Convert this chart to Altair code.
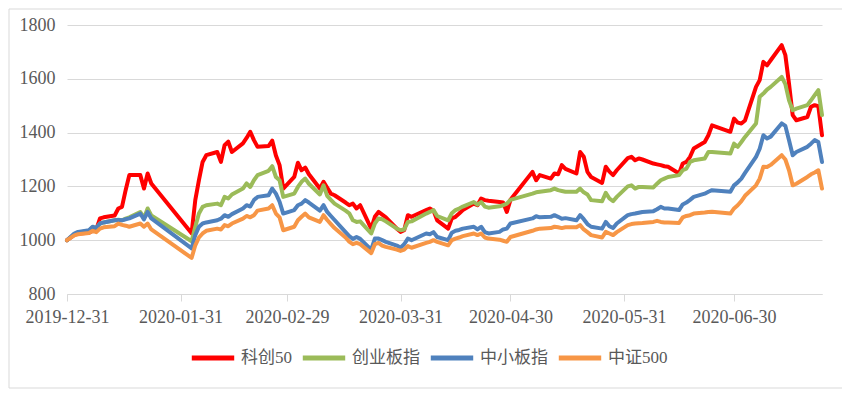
import altair as alt
import pandas as pd

names = ["科创50", "创业板指", "中小板指", "中证500"]
colors = ["#FF0000", "#9BBB59", "#4F81BD", "#F79646"]

dates = [
    "2019-12-31",
    "2020-01-02", "2020-01-03", "2020-01-06", "2020-01-07", "2020-01-08", "2020-01-09", "2020-01-10",
    "2020-01-13", "2020-01-14", "2020-01-15", "2020-01-16", "2020-01-17", "2020-01-20", "2020-01-21",
    "2020-01-22", "2020-01-23",
    "2020-02-03", "2020-02-04", "2020-02-05", "2020-02-06", "2020-02-07", "2020-02-10", "2020-02-11",
    "2020-02-12", "2020-02-13", "2020-02-14", "2020-02-17", "2020-02-18", "2020-02-19", "2020-02-20",
    "2020-02-21", "2020-02-24", "2020-02-25", "2020-02-26", "2020-02-27", "2020-02-28",
    "2020-03-02", "2020-03-03", "2020-03-04", "2020-03-05", "2020-03-06", "2020-03-09", "2020-03-10",
    "2020-03-11", "2020-03-12", "2020-03-13", "2020-03-16", "2020-03-17", "2020-03-18", "2020-03-19",
    "2020-03-20", "2020-03-23", "2020-03-24", "2020-03-25", "2020-03-26", "2020-03-27", "2020-03-30",
    "2020-03-31",
    "2020-04-01", "2020-04-02", "2020-04-03", "2020-04-07", "2020-04-08", "2020-04-09", "2020-04-10",
    "2020-04-13", "2020-04-14", "2020-04-15", "2020-04-16", "2020-04-17", "2020-04-20", "2020-04-21",
    "2020-04-22", "2020-04-23", "2020-04-24", "2020-04-27", "2020-04-28", "2020-04-29", "2020-04-30",
    "2020-05-06", "2020-05-07", "2020-05-08", "2020-05-11", "2020-05-12", "2020-05-13", "2020-05-14",
    "2020-05-15", "2020-05-18", "2020-05-19", "2020-05-20", "2020-05-21", "2020-05-22", "2020-05-25",
    "2020-05-26", "2020-05-27", "2020-05-28", "2020-05-29",
    "2020-06-01", "2020-06-02", "2020-06-03", "2020-06-04", "2020-06-05", "2020-06-08", "2020-06-09",
    "2020-06-10", "2020-06-11", "2020-06-12", "2020-06-15", "2020-06-16", "2020-06-17", "2020-06-18",
    "2020-06-19", "2020-06-22", "2020-06-23", "2020-06-24", "2020-06-29", "2020-06-30",
    "2020-07-01", "2020-07-02", "2020-07-03", "2020-07-06", "2020-07-07", "2020-07-08", "2020-07-09",
    "2020-07-10", "2020-07-13", "2020-07-14", "2020-07-15", "2020-07-16", "2020-07-17", "2020-07-20",
    "2020-07-21", "2020-07-22", "2020-07-23", "2020-07-24",
]

kc50 = [
    1000,
    1020, 1025, 1028, 1035, 1040, 1081, 1085,
    1092, 1118, 1124, 1186, 1242, 1242, 1192,
    1248, 1211,
    1026, 1149, 1223, 1291, 1316, 1328, 1291,
    1353, 1366, 1328, 1360, 1380, 1403, 1372,
    1347, 1350, 1370, 1315, 1279, 1192,
    1235, 1288, 1260, 1270, 1245, 1192, 1217,
    1195, 1173, 1167, 1140, 1130, 1136, 1118,
    1130, 1043, 1087, 1105, 1095, 1085, 1043,
    1031,
    1037, 1093, 1087, 1112, 1118, 1110, 1074,
    1043, 1081, 1087, 1099, 1112, 1136, 1130,
    1155, 1149, 1147, 1142, 1140, 1105, 1150,
    1254, 1223, 1242, 1229, 1248, 1245, 1279,
    1265, 1248, 1328, 1310, 1254, 1235, 1213,
    1273, 1255, 1242, 1260,
    1305, 1310, 1297, 1304, 1300, 1285, 1282,
    1279, 1275, 1273, 1248, 1285, 1291, 1310,
    1341, 1365, 1390, 1427, 1403, 1452,
    1437, 1434, 1445, 1570, 1595, 1663, 1650,
    1669, 1725, 1688, 1582, 1465, 1446, 1458,
    1496, 1502, 1498, 1390,
]

cyb = [
    1000,
    1022, 1028, 1035, 1048, 1045, 1062, 1066,
    1074, 1076, 1074, 1080, 1085, 1105, 1082,
    1118, 1092,
    996, 1050, 1099, 1124, 1130, 1136, 1130,
    1161, 1155, 1170, 1192, 1211, 1198, 1223,
    1242, 1258, 1275, 1235, 1223, 1161,
    1173, 1198, 1217, 1229, 1210, 1170, 1204,
    1165, 1150, 1136, 1110, 1100, 1074, 1068,
    1070, 1025, 1062, 1081, 1078, 1070, 1043,
    1037,
    1040, 1068, 1070, 1099, 1105, 1112, 1090,
    1074, 1100, 1112, 1118, 1125, 1142, 1132,
    1142, 1125, 1121, 1126, 1130, 1136, 1150,
    1173, 1178, 1180, 1186, 1192, 1186, 1183,
    1180, 1180, 1192, 1178, 1170, 1149, 1145,
    1176, 1155, 1145, 1161,
    1200, 1204, 1192, 1198, 1198, 1196, 1210,
    1223, 1229, 1235, 1242, 1260, 1266, 1291,
    1297, 1304, 1328, 1328, 1322, 1359,
    1347, 1365, 1384, 1434, 1533, 1545, 1560,
    1570, 1607, 1580, 1520, 1483, 1489, 1502,
    1520, 1539, 1558, 1465,
]

zxb = [
    1000,
    1025, 1031, 1037, 1050, 1045, 1062, 1066,
    1074, 1075, 1074, 1078, 1081, 1099, 1077,
    1105, 1081,
    970, 1019, 1050, 1062, 1066, 1074, 1080,
    1093, 1087, 1097, 1118, 1130, 1125, 1149,
    1161, 1167, 1192, 1173, 1143, 1099,
    1112, 1130, 1136, 1149, 1140, 1110, 1130,
    1105, 1090, 1075, 1030, 1015, 1005, 1012,
    1005, 965, 1006, 1006, 1000, 994, 980,
    972,
    985, 1006, 1000, 1025, 1022, 1030, 1012,
    1000, 1028, 1035, 1038, 1043, 1050, 1040,
    1050, 1030, 1025, 1031, 1040, 1043, 1062,
    1081, 1089, 1085, 1087, 1093, 1087, 1080,
    1082, 1074, 1093, 1078, 1060, 1050, 1043,
    1068, 1052, 1045, 1062,
    1093, 1097, 1099, 1102, 1105, 1108, 1115,
    1124, 1118, 1118, 1112, 1133, 1140, 1150,
    1161, 1173, 1180, 1186, 1180, 1204,
    1215, 1229, 1250, 1310, 1340, 1390, 1378,
    1385, 1434, 1425, 1372, 1316, 1328, 1347,
    1359, 1372, 1365, 1291,
]

zz500 = [
    1000,
    1018, 1022, 1027, 1035, 1030, 1043, 1048,
    1052, 1062, 1057, 1054, 1050, 1062, 1050,
    1062, 1040,
    934, 981, 1010, 1025, 1035, 1043, 1040,
    1056, 1052, 1062, 1080, 1090, 1085, 1093,
    1110, 1118, 1130, 1099, 1085, 1037,
    1050, 1074, 1087, 1099, 1085, 1068, 1093,
    1075, 1060, 1045, 1010, 995, 985, 990,
    985, 952, 985, 990, 980, 975, 965,
    960,
    965, 978, 972, 990, 994, 1000, 994,
    981, 1000, 1006, 1010, 1015, 1025, 1019,
    1025, 1010, 1006, 1002, 998, 994, 1012,
    1035, 1040, 1043, 1045, 1050, 1048, 1045,
    1048, 1048, 1056, 1040, 1030, 1019, 1010,
    1031, 1025, 1019, 1030,
    1056, 1060, 1062, 1063, 1064, 1068, 1072,
    1068, 1066, 1066, 1064, 1085, 1090, 1093,
    1099, 1103, 1105, 1106, 1099, 1118,
    1130, 1145, 1165, 1204, 1229, 1273, 1272,
    1280, 1316, 1300, 1260, 1204, 1210, 1235,
    1245, 1252, 1260, 1192,
]

y_ticks = [800, 1000, 1200, 1400, 1600, 1800]
x_ticks = [(2019, 12, 31), (2020, 1, 31), (2020, 2, 29), (2020, 3, 31),
           (2020, 4, 30), (2020, 5, 31), (2020, 6, 30)]

df = pd.DataFrame({"date": dates, names[0]: kc50, names[1]: cyb,
                   names[2]: zxb, names[3]: zz500})
long = df.melt("date", var_name="series", value_name="value")

serif = "Liberation Serif"
label_color = "#595959"
grid_color = "#d9d9d9"

x_enc = alt.X(
    "date:T",
    title=None,
    scale=alt.Scale(type="utc", domain=[alt.DateTime(year=2019, month=12, date=31, utc=True),
                                        alt.DateTime(year=2020, month=7, date=24, utc=True)]),
    axis=alt.Axis(
        values=[alt.DateTime(year=a, month=b, date=c, utc=True) for a, b, c in x_ticks],
        labelExpr="utcFormat(datum.value, '%Y-%m-%d')",
        grid=False, domain=True, domainColor=grid_color, domainWidth=1,
        ticks=True, tickColor=grid_color, tickSize=7, tickWidth=1,
        labelFont=serif, labelFontSize=18, labelColor=label_color,
        labelPadding=7, labelFlush=False, labelOverlap=False,
    ),
)
y_enc = alt.Y(
    "value:Q",
    title=None,
    scale=alt.Scale(domain=[800, 1800], nice=False, zero=False),
    axis=alt.Axis(
        values=y_ticks, format="d", domain=False, ticks=False, grid=True,
        gridColor=grid_color, gridWidth=1,
        labelFont=serif, labelFontSize=18, labelColor=label_color,
        labelPadding=12,
    ),
)
color_enc = alt.Color(
    "series:N",
    scale=alt.Scale(domain=names, range=colors),
    sort=names,
    legend=alt.Legend(
        title=None, orient="none", legendX=122, legendY=309,
        direction="horizontal", symbolType="stroke", symbolSize=1800,
        symbolStrokeWidth=5, labelFont="Liberation Serif, Noto Sans CJK SC",
        labelFontSize=17, labelColor=label_color, labelOffset=4,
        columnPadding=0, gridAlign="none", padding=0,
    ),
)

frame = alt.Chart(pd.DataFrame({"k": [0]})).mark_rect(
    fillOpacity=0, stroke=grid_color, strokeWidth=1
).encode(
    x=alt.value(-58), x2=alt.value(776), y=alt.value(-16), y2=alt.value(363)
)

layers = [frame]
for n in names:
    layers.append(
        alt.Chart(long)
        .transform_filter(alt.datum.series == n)
        .mark_line(strokeWidth=4, strokeJoin="round", strokeCap="round")
        .encode(x=x_enc, y=y_enc, color=color_enc)
    )

chart = (
    alt.layer(*layers)
    .properties(
        width=755, height=269,
        padding={"left": 59, "top": 17, "right": 20, "bottom": 96},
        autosize=alt.AutoSizeParams(type="none"),
        background="white",
    )
    .configure_view(strokeWidth=0)
)

chart.save("out.html", embed_options={"renderer": "svg", "actions": False})
